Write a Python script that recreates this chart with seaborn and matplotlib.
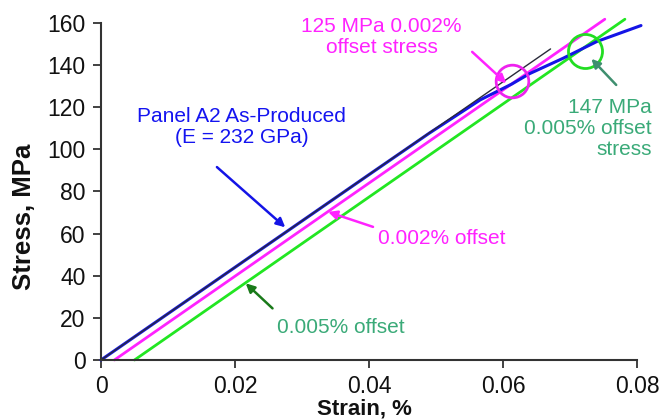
import matplotlib
matplotlib.use("Agg")
import matplotlib.pyplot as plt
import seaborn as sns
import pandas as pd

# ---- data ----
blue_strain = [0, 0.010, 0.020, 0.030, 0.040, 0.049, 0.0566, 0.0613, 0.064, 0.069, 0.074, 0.0806]
blue_stress = [0, 22.0, 44.0, 66.0, 88.0, 107.7, 123.5, 131.0, 136.0, 143.3, 151.2, 158.8]

fit_strain = [0, 0.0671]
fit_stress = [0, 147.7]

off002_strain = [0.002, 0.0752]
off002_stress = [0, 161.8]

off005_strain = [0.005, 0.0782]
off005_stress = [0, 161.8]

circle_strain = [0.0613, 0.0722]
circle_stress = [132.5, 146.9]

x_ticks = [0, 0.02, 0.04, 0.06, 0.08]
x_ticklabels = ["0", "0.02", "0.04", "0.06", "0.08"]
y_ticks = [0, 20, 40, 60, 80, 100, 120, 140, 160]
y_ticklabels = ["0", "20", "40", "60", "80", "100", "120", "140", "160"]

sns.set_theme(style="ticks")
plt.rcParams["font.family"] = ["Liberation Sans", "DejaVu Sans"]

fig = plt.figure(figsize=(6.62, 4.20), dpi=100)
ax = fig.add_axes([0.1526, 0.1429, 0.8096, 0.8023])

def line(xs, ys, color, lw):
    df = pd.DataFrame({"x": xs, "y": ys})
    sns.lineplot(data=df, x="x", y="y", ax=ax, color=color, lw=lw,
                 sort=False, estimator=None, clip_on=False)

line(off005_strain, off005_stress, "#22e622", 2.0)
line(off002_strain, off002_stress, "#ff22ff", 2.0)
line(blue_strain, blue_stress, "#1414e6", 2.2)
line(fit_strain, fit_stress, "#2a2a3a", 1.0)

# circles
ax.plot([circle_strain[0]], [circle_stress[0]], marker="o", ms=23.5, mfc="none",
        mec="#ee22ee", mew=2.0, ls="none", clip_on=False)
ax.plot([circle_strain[1]], [circle_stress[1]], marker="o", ms=24.5, mfc="none",
        mec="#22dd22", mew=2.0, ls="none", clip_on=False)

ax.set_xlim(0, 0.08)
ax.set_ylim(0, 160)
ax.set_xticks(x_ticks)
ax.set_xticklabels(x_ticklabels)
ax.set_yticks(y_ticks)
ax.set_yticklabels(y_ticklabels)
ax.tick_params(axis="both", length=6, width=1.3, color="#333333", labelsize=16.5,
               labelcolor="#111111", direction="out")
ax.tick_params(axis="x", pad=4.5)
ax.tick_params(axis="y", pad=5)
sns.despine(ax=ax)
for s in ("left", "bottom"):
    ax.spines[s].set_color("#333333")
    ax.spines[s].set_linewidth(1.5)

ax.set_xlabel("Strain, %", fontsize=16, fontweight="bold", color="#111111",
              ha="center", va="baseline")
ax.xaxis.set_label_coords(0.491, -0.163)
ax.set_ylabel("Stress, MPa", fontsize=18.5, fontweight="bold", color="#111111",
              ha="center", va="center")
ax.yaxis.set_label_coords(-0.144, 0.424)

# annotations
ap = lambda c: dict(arrowstyle="-|>", color=c, lw=1.8, mutation_scale=13,
                    shrinkA=0, shrinkB=0)

ax.annotate("", xy=(0.0275, 63), xytext=(0.0173, 91.6), arrowprops=ap("#1414e6"))
ax.text(0.0210, 110.5, "Panel A2 As-Produced\n(E = 232 GPa)", color="#1414f0",
        fontsize=15, ha="center", va="center", linespacing=1.15)

ax.annotate("", xy=(0.0605, 131.4), xytext=(0.0554, 146.3), arrowprops=ap("#ff22ff"))
ax.text(0.0419, 153.5, "125 MPa 0.002%\noffset stress", color="#ff22ff",
        fontsize=15, ha="center", va="center", linespacing=1.15)

ax.annotate("", xy=(0.0339, 70.3), xytext=(0.0406, 63.2), arrowprops=ap("#ff22ff"))
ax.text(0.0413, 57.5, "0.002% offset", color="#ff22ff", fontsize=15,
        ha="left", va="center")

ax.annotate("", xy=(0.0216, 36.4), xytext=(0.0256, 24.5), arrowprops=ap("#1a7a1a"))
ax.text(0.0262, 15.5, "0.005% offset", color="#3aaa78", fontsize=15,
        ha="left", va="center")

ax.annotate("", xy=(0.0732, 143), xytext=(0.0769, 130.6), arrowprops=ap("#3f8f6f"))
ax.text(0.0822, 110, "147 MPa\n0.005% offset\nstress", color="#3aaa78",
        fontsize=15, ha="right", va="center", linespacing=1.15, clip_on=False)

fig.savefig("out.png", dpi=100)
